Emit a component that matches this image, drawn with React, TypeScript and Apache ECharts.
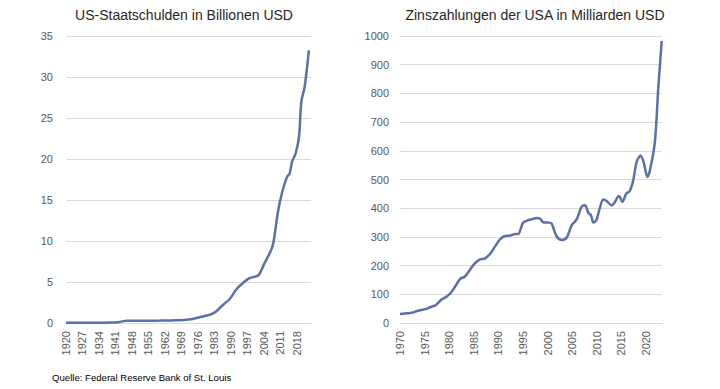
import React, { useEffect, useRef } from 'react';
import * as echarts from 'echarts';

// US federal debt (trillions USD)
const debtYears = [1920, 1930, 1940, 1941, 1942, 1943, 1944, 1945, 1946, 1950, 1955, 1960, 1965, 1970, 1973.8, 1976.7, 1981, 1983.7, 1986.6, 1989.4, 1992.2, 1995.1, 1997.9, 2000.7, 2001.9, 2004.3, 2007.1, 2008.1, 2010, 2011.8, 2013.8, 2014.9, 2016, 2017.5, 2018.9, 2019.9, 2021.3, 2023.1];
const debtValues = [0.03, 0.02, 0.05, 0.06, 0.08, 0.14, 0.2, 0.26, 0.27, 0.26, 0.27, 0.29, 0.32, 0.38, 0.5, 0.7, 1.0, 1.4, 2.2, 2.9, 4.05, 4.87, 5.47, 5.68, 5.88, 7.3, 8.9, 9.9, 13.6, 16.0, 17.8, 18.2, 19.7, 20.7, 22.7, 27.0, 28.8, 33.25];

// US interest payments (billions USD)
const interestYears = [1970.0, 1971.0, 1972.0, 1972.7, 1973.5, 1974.5, 1975.4, 1976.1, 1977.0, 1977.4, 1978.4, 1979.5, 1980.5, 1981.2, 1982.2, 1983.2, 1984.2, 1985.2, 1986.3, 1987.3, 1988.4, 1989.3, 1990.3, 1991.3, 1992.4, 1993.4, 1994.0, 1995.0, 1996.0, 1997.1, 1997.8, 1998.5, 1999.1, 2000.1, 2000.8, 2001.8, 2002.9, 2003.9, 2004.9, 2005.9, 2006.9, 2007.6, 2008.3, 2008.8, 2009.3, 2009.9, 2010.5, 2011.3, 2012.0, 2013.0, 2013.7, 2014.4, 2014.7, 2015.2, 2016.0, 2016.7, 2017.4, 2018.1, 2018.9, 2019.5, 2020.3, 2020.8, 2021.8, 2022.5, 2023.2];
const interestValues = [31, 33, 35, 37, 42, 46, 49, 55, 60, 64, 81, 92, 109, 127, 153, 162, 185, 208, 222, 225, 243, 266, 291, 303, 305, 310, 310, 349, 358, 363, 366, 363, 351, 350, 347, 303, 289, 298, 341, 361, 405, 410, 384, 376, 350, 358, 393, 430, 425, 410, 422, 442, 439, 422, 451, 460, 497, 561, 584, 561, 509, 532, 630, 821, 983];

const debtStartYear = 1920;
const debtLabelStep = 7;
const interestLabelStep = 5;

const titleLeft = 'US-Staatschulden in Billionen USD';
const titleRight = 'Zinszahlungen der USA in Milliarden USD';
const sourceText = 'Quelle: Federal Reserve Bank of St. Louis';

export default function App() {
  const ref = useRef<HTMLDivElement>(null);
  useEffect(() => {
    const chart = echarts.init(ref.current!, null, { renderer: 'svg' });
    const labelColor = '#595959';
    const gridColor = '#d9d9d9';
    const lineColor = '#5b6fa8';
    const tickFont = 'Liberation Sans';
    chart.setOption({
      animation: false,
      backgroundColor: '#ffffff',
      grid: [
        { left: 66, top: 36, width: 245, height: 287 },
        { left: 400, top: 36, width: 262, height: 287 },
      ],
      xAxis: [
        {
          type: 'value', gridIndex: 0, min: 0, max: 104, interval: debtLabelStep,
          axisLine: { show: true, lineStyle: { color: gridColor, width: 1 } },
          axisTick: { show: false },
          splitLine: { show: false },
          axisLabel: {
            rotate: 90, margin: 8, color: labelColor, fontSize: 11, fontFamily: tickFont,
            showMaxLabel: false,
            formatter: (v: number) => (v % debtLabelStep === 0 ? String(debtStartYear + v) : ''),
          },
        },
        {
          type: 'value', gridIndex: 1, min: 1970, max: 2023.25, interval: interestLabelStep,
          axisLine: { show: true, lineStyle: { color: gridColor, width: 1 } },
          axisTick: { show: false },
          splitLine: { show: false },
          axisLabel: {
            rotate: 90, margin: 8, color: labelColor, fontSize: 11, fontFamily: tickFont,
            showMaxLabel: false,
            formatter: (v: number) => (v % interestLabelStep === 0 ? String(v) : ''),
          },
        },
      ],
      yAxis: [
        {
          type: 'value', gridIndex: 0, min: 0, max: 35, interval: 5,
          axisLine: { show: false }, axisTick: { show: false },
          splitLine: { show: true, lineStyle: { color: gridColor, width: 1 } },
          axisLabel: { margin: 13, color: labelColor, fontSize: 11, fontFamily: tickFont, formatter: (v: number) => String(v) },
        },
        {
          type: 'value', gridIndex: 1, min: 0, max: 1000, interval: 100,
          axisLine: { show: false }, axisTick: { show: false },
          splitLine: { show: true, lineStyle: { color: gridColor, width: 1 } },
          axisLabel: { margin: 11, color: labelColor, fontSize: 11, fontFamily: tickFont, formatter: (v: number) => String(v) },
        },
      ],
      series: [
        {
          type: 'line', xAxisIndex: 0, yAxisIndex: 0, showSymbol: false, smooth: 0.3,
          lineStyle: { color: lineColor, width: 2.5 },
          data: debtYears.map((y, i) => [y - debtStartYear, debtValues[i]]),
        },
        {
          type: 'line', xAxisIndex: 1, yAxisIndex: 1, showSymbol: false, smooth: 0.3,
          lineStyle: { color: lineColor, width: 2.5 },
          data: interestYears.map((y, i) => [y, interestValues[i]]),
        },
      ],
      graphic: [
        {
          type: 'text', x: 184, y: 15,
          style: { text: titleLeft, fill: '#262626', font: '14px "Liberation Sans"', align: 'center', verticalAlign: 'middle' },
        },
        {
          type: 'text', x: 535, y: 15,
          style: { text: titleRight, fill: '#262626', font: '14px "Liberation Sans"', align: 'center', verticalAlign: 'middle' },
        },
        {
          type: 'text', x: 52, y: 377,
          style: { text: sourceText, fill: '#000000', font: '9.6px "Liberation Sans"', align: 'left', verticalAlign: 'middle' },
        },
      ],
    });
    return () => chart.dispose();
  }, []);
  return <div ref={ref} style={{ position: 'fixed', left: 0, top: 0, width: 720, height: 389, background: '#fff' }} />;
}
